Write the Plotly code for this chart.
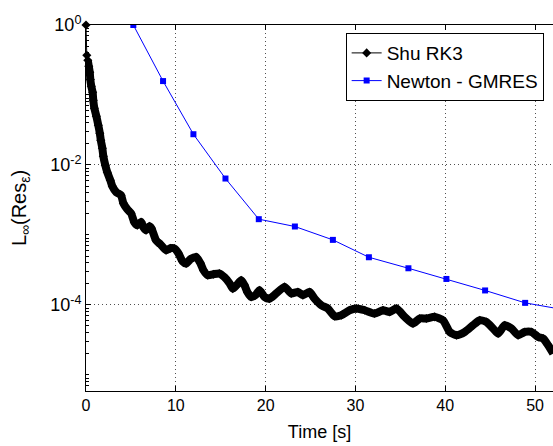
import plotly.graph_objects as go

# ---- data ----
shu_time = [0.0, 0.09, 0.2, 0.31, 0.42, 0.48, 0.59, 0.74, 0.81, 0.93, 1.15, 1.37, 1.54, 1.65,
            1.82, 1.93, 2.15, 2.37, 2.71, 2.93, 3.38, 3.9, 4.16, 4.6, 5.02, 5.38, 5.72, 6.13,
            6.39, 6.69, 7.06, 7.28, 7.8, 8.28, 8.92, 9.4, 9.84, 10.29, 10.74, 11.15, 11.63,
            12.26, 12.74, 13.08, 13.56, 14.19, 14.86, 15.42, 15.98, 16.34, 16.76, 17.28, 17.65,
            17.98, 18.39, 18.87, 19.32, 19.88, 20.43, 21.18, 22.11, 22.85, 23.59, 24.15, 24.89,
            25.45, 26.2, 26.93, 27.68, 28.43, 29.35, 30.1, 31.03, 32.14, 33.07, 33.81, 34.56,
            35.49, 36.41, 37.16, 37.9, 38.83, 39.75, 40.5, 41.25, 42.17, 43.1, 43.85, 44.59,
            45.33, 45.89, 46.63, 47.38, 48.12, 48.86, 49.61, 50.35, 50.9, 51.46, 52.02]
shu_res = [1.0, 0.369, 0.313, 0.257, 0.211, 0.167, 0.133, 0.109, 0.0839, 0.0646, 0.0498, 0.0369,
           0.0284, 0.0225, 0.0173, 0.0133, 0.0099, 0.00787, 0.00604, 0.00497, 0.00407, 0.00369,
           0.00284, 0.00233, 0.00204, 0.00152, 0.00138, 0.00153, 0.00129, 0.00117, 0.00133,
           0.00125, 0.000839, 0.000736, 0.000604, 0.000646, 0.00064, 0.000548, 0.000421,
           0.00039, 0.00045, 0.000485, 0.000394, 0.000313, 0.000265, 0.000275, 0.000281,
           0.000249, 0.000204, 0.000171, 0.000191, 0.000225, 0.000191, 0.000152, 0.00013,
           0.000138, 0.000162, 0.00013, 0.000123, 0.000146, 0.000181, 0.000146, 0.000153,
           0.000138, 0.000153, 0.000123, 9.91e-05, 8.89e-05, 6.9e-05, 7.13e-05, 8.39e-05,
           8.89e-05, 8.39e-05, 7.53e-05, 8.39e-05, 7.94e-05, 8.89e-05, 6.75e-05, 5.42e-05,
           6.4e-05, 6.4e-05, 6.75e-05, 6.04e-05, 4.11e-05, 3.69e-05, 4.11e-05, 5.13e-05,
           6.04e-05, 5.71e-05, 4.6e-05, 3.9e-05, 5.13e-05, 4.6e-05, 3.69e-05, 4.11e-05,
           4.11e-05, 3.49e-05, 3.31e-05, 2.65e-05, 2.02e-05]

newton_time = [5.27, 8.58, 11.96, 15.53, 19.24, 23.26, 27.49, 31.5, 35.9, 40.13, 44.44, 48.9, 53.3]
newton_res = [1.0, 0.158, 0.0275, 0.0064, 0.00168, 0.00132, 0.00085, 0.00048, 0.000334,
              0.000235, 0.000161, 0.000107, 8.5e-05]

x_tick_vals = [0, 10, 20, 30, 40, 50]
y_tick_vals = [1, 1e-2, 1e-4]
y_tick_text = ["10<sup>0</sup>", "10<sup>-2</sup>", "10<sup>-4</sup>"]

FONT = "Liberation Sans, Arial, sans-serif"

fig = go.Figure()

# thick band formed by the dense diamond markers
fig.add_trace(go.Scatter(
    x=shu_time[2:], y=shu_res[2:], mode="lines",
    line=dict(color="black", width=8, shape="spline", smoothing=0.6),
    showlegend=False, hoverinfo="skip"))

fig.add_trace(go.Scatter(
    x=shu_time, y=shu_res, mode="lines+markers", name="Shu RK3",
    line=dict(color="black", width=1), cliponaxis=False,
    marker=dict(symbol="diamond", size=7, color="black")))

fig.add_trace(go.Scatter(
    x=newton_time, y=newton_res, mode="lines+markers", name="Newton - GMRES",
    line=dict(color="#0000ff", width=1),
    marker=dict(symbol="square", size=6, color="#0000ff")))

minor_vals = [m * 10.0 ** e for e in range(-6, 0) for m in range(2, 10)] + [1e-5, 1e-3, 1e-1]

GRID_DASH = "1px,3px"

fig.update_layout(
    width=553, height=446,
    margin=dict(l=86, r=0, t=25, b=55),
    paper_bgcolor="white", plot_bgcolor="white",
    font=dict(family=FONT, size=16, color="black"),
    showlegend=True,
    legend=dict(x=0.556, y=0.978, xanchor="left", yanchor="top",
                bgcolor="white", bordercolor="black", borderwidth=1,
                font=dict(family=FONT, size=19), tracegroupgap=0,
                itemwidth=30),
    xaxis=dict(
        range=[0, 52.0], tickvals=x_tick_vals, ticks="inside", ticklen=5,
        tickcolor="black", showline=True, linecolor="black", linewidth=1,
        mirror="ticks", showgrid=True, gridcolor="#505050", griddash=GRID_DASH,
        gridwidth=1, zeroline=False,
        title=dict(text="Time [s]", font=dict(size=18), standoff=12),
        tickfont=dict(size=16)),
    yaxis=dict(
        type="log", range=[-5.23, 0], tickvals=y_tick_vals, ticktext=y_tick_text,
        ticks="inside", ticklen=5, tickcolor="black", showline=True,
        linecolor="black", linewidth=1, mirror=False, showgrid=True,
        gridcolor="#505050", griddash=GRID_DASH, gridwidth=1, zeroline=False,
        minor=dict(tickvals=minor_vals, ticks="inside", ticklen=3,
                   tickcolor="black", showgrid=False),
        title=dict(text="L<sub>∞</sub>(Res<sub>ε</sub>)", font=dict(size=20), standoff=18),
        tickfont=dict(size=18)),
)

fig.write_html("out.html")
